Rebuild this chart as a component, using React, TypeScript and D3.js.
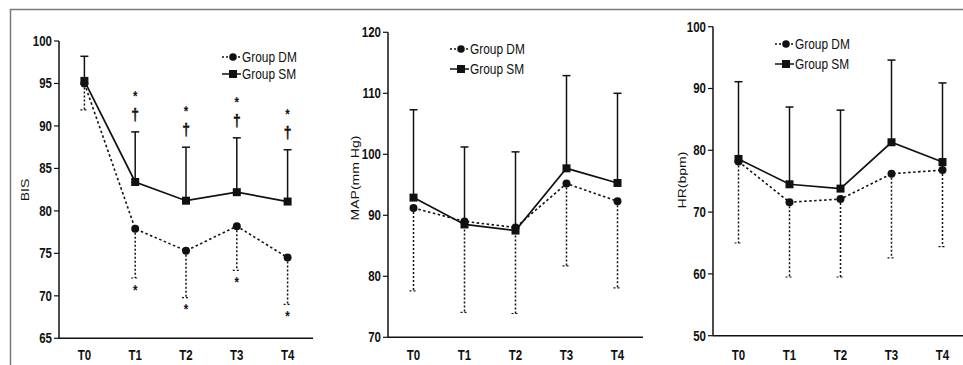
import { useEffect, useRef } from 'react';
import * as d3 from 'd3';

// time points
const categories = ['T0', 'T1', 'T2', 'T3', 'T4'];

// BIS
const bisDM = [95.0, 77.9, 75.3, 78.2, 74.5];
const bisDMLow = [91.9, 72.1, 69.8, 73.0, 69.0];
const bisSM = [95.3, 83.4, 81.2, 82.2, 81.1];
const bisSMHigh = [98.2, 89.3, 87.5, 88.6, 87.2];
const bisTicks = [65, 70, 75, 80, 85, 90, 95, 100];
// significance marks (index of time point)
const bisMarks = [1, 2, 3, 4];

// MAP
const mapDM = [91.2, 89.0, 88.0, 95.2, 92.3];
const mapDMLow = [77.6, 74.1, 73.9, 81.7, 78.1];
const mapSM = [92.9, 88.5, 87.5, 97.7, 95.3];
const mapSMHigh = [107.3, 101.2, 100.4, 112.9, 110.0];
const mapTicks = [70, 80, 90, 100, 110, 120];

// HR
const hrDM = [78.2, 71.6, 72.1, 76.2, 76.8];
const hrDMLow = [65.0, 59.5, 59.5, 62.6, 64.4];
const hrSM = [78.6, 74.5, 73.8, 81.3, 78.1];
const hrSMHigh = [91.1, 87.0, 86.5, 94.6, 90.9];
const hrTicks = [50, 60, 70, 80, 90, 100];

const FONT = "'Liberation Sans', Arial, sans-serif";
const INK = '#111';
const SQUEEZE = 0.82; // the original figure is horizontally compressed

const panels = [
  { title: 'BIS', dm: bisDM, dmLow: bisDMLow, sm: bisSM, smHigh: bisSMHigh, ticks: bisTicks, marks: bisMarks,
    x0: 59, x1: 313, yTop: 41, yBottom: 338.3, titleX: 25, titleY: 190, legX: 222, legY: [57, 74] },
  { title: 'MAP(mm Hg)', dm: mapDM, dmLow: mapDMLow, sm: mapSM, smHigh: mapSMHigh, ticks: mapTicks, marks: [],
    x0: 388, x1: 643, yTop: 32.3, yBottom: 337.3, titleX: 355, titleY: 178, legX: 450, legY: [49, 69] },
  { title: 'HR(bpm)', dm: hrDM, dmLow: hrDMLow, sm: hrSM, smHigh: hrSMHigh, ticks: hrTicks, marks: [],
    x0: 713, x1: 968, yTop: 26.7, yBottom: 335.7, titleX: 682, titleY: 180, legX: 775, legY: [44, 64] },
];

function addText(g, x, y, str, size, anchor = 'start', bold = false) {
  return g.append('text')
    .attr('transform', `translate(${x},${y}) scale(${SQUEEZE},1)`)
    .attr('dy', '0.35em')
    .attr('text-anchor', anchor)
    .style('font-family', FONT)
    .style('font-size', size + 'px')
    .style('font-weight', bold ? 'bold' : 'normal')
    .attr('fill', INK)
    .text(str);
}

export default function App() {
  const svgRef = useRef(null);

  useEffect(() => {
    const svg = d3.select(svgRef.current);
    svg.selectAll('*').remove();

    // frame around the figure
    svg.append('path')
      .attr('d', 'M10.5,365 L10.5,9.5 L963,9.5')
      .attr('fill', 'none')
      .attr('stroke', '#7a7a7a')
      .attr('stroke-width', 1.5);

    panels.forEach(p => {
      const g = svg.append('g');
      const x = d3.scalePoint().domain(categories).range([p.x0, p.x1]).padding(0.5);
      const y = d3.scaleLinear()
        .domain([p.ticks[0], p.ticks[p.ticks.length - 1]])
        .range([p.yBottom, p.yTop]);

      // axes
      g.append('line')
        .attr('x1', p.x0).attr('x2', p.x0)
        .attr('y1', p.yTop).attr('y2', p.yBottom)
        .attr('stroke', INK).attr('stroke-width', 1.5);
      g.append('line')
        .attr('x1', p.x0).attr('x2', p.x1)
        .attr('y1', p.yBottom).attr('y2', p.yBottom)
        .attr('stroke', INK).attr('stroke-width', 1.5);

      p.ticks.forEach(t => {
        g.append('line')
          .attr('x1', p.x0 - 5).attr('x2', p.x0)
          .attr('y1', y(t)).attr('y2', y(t))
          .attr('stroke', INK).attr('stroke-width', 1.2);
        addText(g, p.x0 - 7, y(t), t, 14, 'end', true);
      });

      categories.forEach(c => {
        addText(g, x(c), 355, c, 14, 'middle', true);
      });

      g.append('text')
        .attr('transform', `translate(${p.titleX},${p.titleY}) rotate(-90) scale(1,${SQUEEZE})`)
        .attr('dy', '0.35em')
        .attr('text-anchor', 'middle')
        .style('font-family', FONT).style('font-size', '14px')
        .attr('fill', INK)
        .text(p.title);

      // error bars: SM up (solid), DM down (dotted)
      categories.forEach((c, i) => {
        g.append('line')
          .attr('x1', x(c)).attr('x2', x(c))
          .attr('y1', y(p.sm[i])).attr('y2', y(p.smHigh[i]))
          .attr('stroke', INK).attr('stroke-width', 1.5);
        g.append('line')
          .attr('x1', x(c) - 4).attr('x2', x(c) + 4)
          .attr('y1', y(p.smHigh[i])).attr('y2', y(p.smHigh[i]))
          .attr('stroke', INK).attr('stroke-width', 1.5);
        g.append('line')
          .attr('x1', x(c)).attr('x2', x(c))
          .attr('y1', y(p.dm[i])).attr('y2', y(p.dmLow[i]))
          .attr('stroke', INK).attr('stroke-width', 1.5)
          .attr('stroke-dasharray', '2,2');
        g.append('line')
          .attr('x1', x(c) - 4).attr('x2', x(c) + 4)
          .attr('y1', y(p.dmLow[i])).attr('y2', y(p.dmLow[i]))
          .attr('stroke', INK).attr('stroke-width', 1.2)
          .attr('stroke-dasharray', '2,2');
      });

      // lines
      const line = d3.line<number>()
        .x((d, i) => x(categories[i]))
        .y(d => y(d));
      g.append('path')
        .attr('d', line(p.dm))
        .attr('fill', 'none').attr('stroke', INK).attr('stroke-width', 1.6)
        .attr('stroke-dasharray', '2.5,2.5');
      g.append('path')
        .attr('d', line(p.sm))
        .attr('fill', 'none').attr('stroke', INK).attr('stroke-width', 1.7);

      // markers
      categories.forEach((c, i) => {
        g.append('circle')
          .attr('cx', x(c)).attr('cy', y(p.dm[i])).attr('r', 4)
          .attr('fill', INK);
        g.append('rect')
          .attr('x', x(c) - 4).attr('y', y(p.sm[i]) - 4)
          .attr('width', 8).attr('height', 8)
          .attr('fill', INK);
      });

      // significance marks
      p.marks.forEach(i => {
        const cx = x(categories[i]);
        const top = y(p.smHigh[i]);
        const low = y(p.dmLow[i]);
        addText(g, cx, top - 36, '*', 14, 'middle', true);
        addText(g, cx, top - 18, '†', 17, 'middle', true)
          .attr('stroke', INK).attr('stroke-width', 0.4);
        addText(g, cx, low + 12, '*', 14, 'middle', true);
      });

      // legend
      const names = ['Group DM', 'Group SM'];
      names.forEach((n, k) => {
        const ly = p.legY[k];
        g.append('line')
          .attr('x1', p.legX).attr('x2', p.legX + 19)
          .attr('y1', ly).attr('y2', ly)
          .attr('stroke', INK).attr('stroke-width', 1.5)
          .attr('stroke-dasharray', k === 0 ? '2,2' : null);
        if (k === 0) {
          g.append('circle').attr('cx', p.legX + 11).attr('cy', ly).attr('r', 3.8).attr('fill', INK);
        } else {
          g.append('rect').attr('x', p.legX + 7).attr('y', ly - 4).attr('width', 8).attr('height', 8).attr('fill', INK);
        }
        addText(g, p.legX + 20, ly, n, 14.5);
      });
    });
  }, []);

  return (
    <div style={{ position: 'absolute', left: 0, top: 0, width: 963, height: 365, background: '#fff' }}>
      <svg ref={svgRef} width={963} height={365}></svg>
    </div>
  );
}
